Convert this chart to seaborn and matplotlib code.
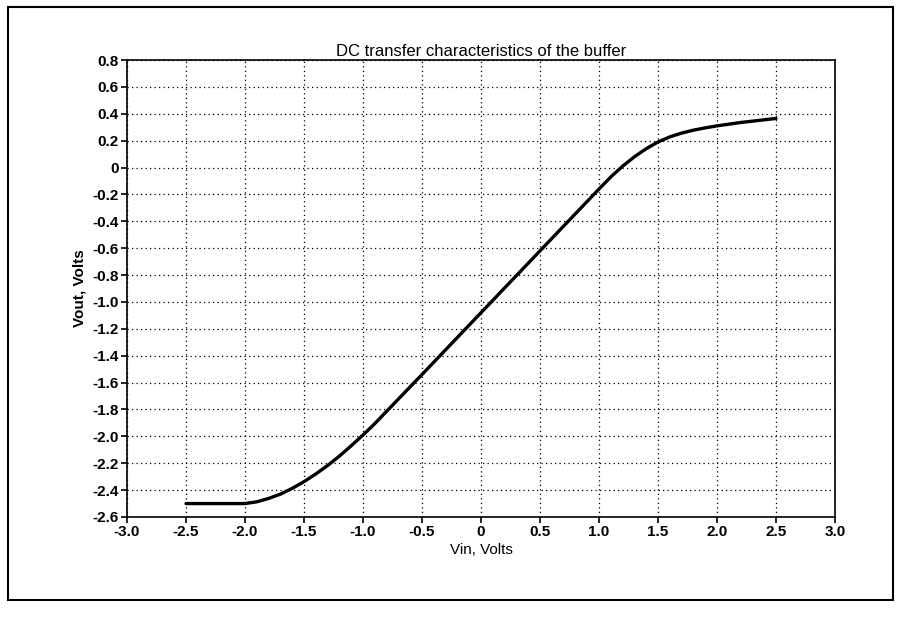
import matplotlib
matplotlib.use("Agg")
import matplotlib.pyplot as plt
import seaborn as sns
import pandas as pd
from matplotlib.patches import Rectangle
from matplotlib.ticker import FuncFormatter

sns.set_theme(style="white")
plt.rcParams['font.family'] = ['Liberation Sans', 'DejaVu Sans']

vin = [-2.5, -2.25, -2.0, -1.9, -1.8, -1.7, -1.6, -1.5, -1.4, -1.3, -1.2, -1.1, -1.0, -0.9,
       -0.5, 0.0, 0.5, 1.0, 1.1, 1.2, 1.3, 1.4, 1.5, 1.6, 1.7, 1.8, 1.9, 2.0, 2.2, 2.5]
vout = [-2.50, -2.50, -2.50, -2.487, -2.462, -2.43, -2.387, -2.337, -2.28, -2.217, -2.147, -2.07, -1.99, -1.905,
        -1.54, -1.08, -0.62, -0.16, -0.07, 0.01, 0.08, 0.14, 0.19, 0.228, 0.256, 0.278, 0.295, 0.31, 0.335, 0.365]

xticks = [-3.0, -2.5, -2.0, -1.5, -1.0, -0.5, 0.0, 0.5, 1.0, 1.5, 2.0, 2.5, 3.0]
yticks = [0.8, 0.6, 0.4, 0.2, 0.0, -0.2, -0.4, -0.6, -0.8, -1.0, -1.2, -1.4, -1.6, -1.8,
          -2.0, -2.2, -2.4, -2.6]

df = pd.DataFrame({"Vin": vin, "Vout": vout})

fig = plt.figure(figsize=(9.02, 6.24), dpi=100)
fig.patch.set_facecolor("white")
ax = fig.add_axes([127/902, 1-517/624, (835-127)/902, (517-60)/624])

sns.lineplot(data=df, x="Vin", y="Vout", ax=ax, color="black", linewidth=2.4)

ax.set_xlim(-3.0, 3.0)
ax.set_ylim(-2.6, 0.8)
ax.set_xticks(xticks)
ax.set_yticks(yticks)
fmt = FuncFormatter(lambda v, p: "0" if abs(v) < 1e-9 else f"{v:.1f}")
ax.xaxis.set_major_formatter(fmt)
ax.yaxis.set_major_formatter(fmt)
ax.grid(True, linestyle=(0, (1.0, 2.6)), color="black", linewidth=0.9)
for s in ax.spines.values():
    s.set_color("black")
    s.set_linewidth(1.2)
ax.tick_params(axis="both", which="major", direction="out", length=4, width=1.2,
               color="black", labelsize=11, labelcolor="black", pad=2,
               bottom=True, left=True)
for lab in ax.get_xticklabels() + ax.get_yticklabels():
    lab.set_fontweight("bold")
ax.set_xlabel("Vin, Volts", fontsize=11, color="black", labelpad=3)
ax.set_ylabel("Vout, Volts", fontsize=11, color="black", fontweight="bold", labelpad=4)
ax.set_title("DC transfer characteristics of the buffer", fontsize=12, color="black", pad=3)

fig.patches.append(Rectangle((8/902, 1-600/624), (893-8)/902, (600-7)/624,
                             transform=fig.transFigure, fill=False,
                             edgecolor="black", linewidth=1.5))

fig.savefig("out.png", dpi=100, facecolor="white")
